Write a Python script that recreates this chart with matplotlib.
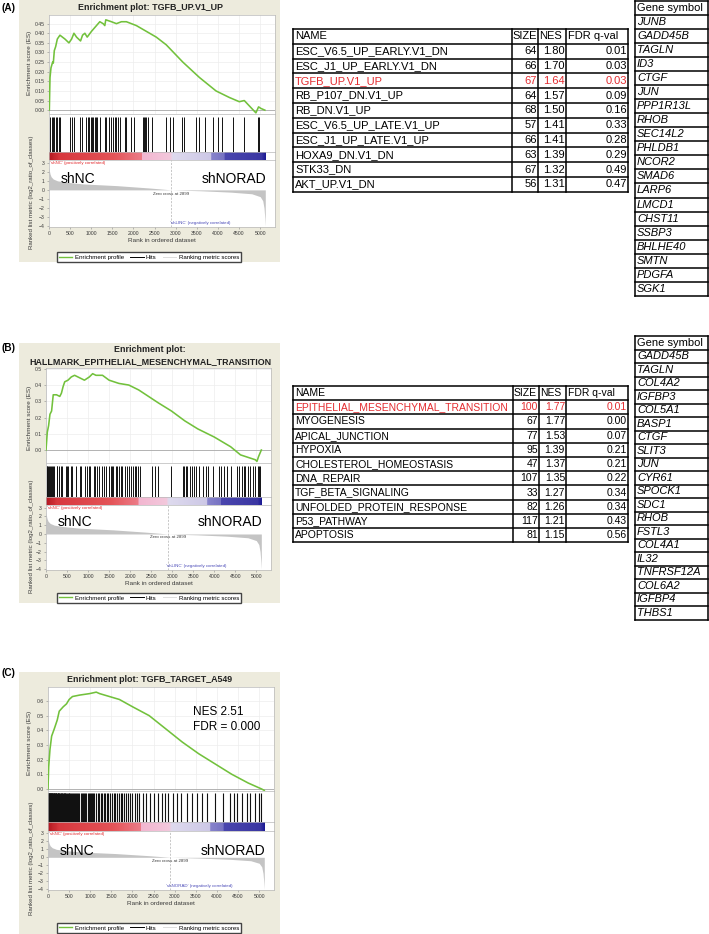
import matplotlib
matplotlib.use('Agg')
import matplotlib.pyplot as plt
import numpy as np
from matplotlib.colors import LinearSegmentedColormap
from matplotlib.lines import Line2D
from matplotlib.patches import Rectangle

plt.rcParams['font.family'] = ['Liberation Sans', 'DejaVu Sans']

W, H = 709, 934

############################## data ##############################
n_genes = 5120
zero_cross = 2899

# ranking metric (shared by the three plots)
metric_rank = [0, 10, 25, 50, 100, 200, 400, 800, 1600, 2400, 2899, 3600, 4300, 4800, 5000, 5060, 5090, 5110, 5120]
metric_val = [2.5, 2.1, 1.75, 1.45, 1.2, 1.0, 0.85, 0.66, 0.47, 0.2, 0.0, -0.1, -0.25, -0.43, -0.75, -1.2, -2.0, -3.2, -4.0]

# (A) TGFB_UP.V1_UP
es_a_rank = [0, 8, 16, 24, 47, 86, 102, 126, 157, 197, 259, 377, 472, 535, 590, 652, 747, 794, 849, 904,
             1006, 1124, 1203, 1281, 1321, 1344, 1478, 1596, 1714, 1832, 1950, 2068, 2225, 2382, 2539, 2775,
             3168, 3561, 3954, 4269, 4505, 4623, 4859, 4898, 4961, 5016, 5110]
es_a = [0.0, 0.0, 0.09, 0.17, 0.22, 0.25, 0.245, 0.31, 0.33, 0.37, 0.39, 0.37, 0.35, 0.37, 0.40, 0.38, 0.36, 0.39,
        0.40, 0.38, 0.41, 0.44, 0.46, 0.45, 0.44, 0.47, 0.46, 0.45, 0.46, 0.46, 0.45, 0.44, 0.42, 0.40, 0.38, 0.34,
        0.25, 0.17, 0.10, 0.066, 0.044, 0.05, -0.005, -0.014, 0.017, 0.009, 0.0]
hits_a = [24, 63, 102, 126, 157, 197, 228, 259, 495, 535, 590, 731, 786, 873, 928, 951, 983, 1014, 1045, 1085,
          1124, 1148, 1203, 1320, 1360, 1423, 1478, 1517, 1556, 1596, 1635, 1674, 1792, 1831, 1949, 2004, 2224,
          2248, 2279, 2303, 2342, 2444, 2775, 2853, 2932, 3152, 3207, 3482, 3561, 3702, 3875, 3993, 4095, 4347,
          4622, 4937, 4976]

# (B) HALLMARK_EPITHELIAL_MESENCHYMAL_TRANSITION
es_b_rank = [0, 31, 62, 94, 133, 172, 250, 328, 367, 406, 445, 523, 602, 680, 758, 836, 914, 1031, 1109, 1188,
             1344, 1500, 1734, 1969, 2203, 2438, 2672, 2984, 3297, 3609, 4000, 4391, 4625, 4859, 4977, 5016,
             5055, 5120]
es_b = [0.0, 0.11, 0.15, 0.22, 0.24, 0.34, 0.34, 0.33, 0.35, 0.39, 0.42, 0.43, 0.45, 0.46, 0.45, 0.44, 0.43, 0.45,
        0.47, 0.46, 0.46, 0.43, 0.41, 0.40, 0.37, 0.33, 0.29, 0.24, 0.18, 0.13, 0.08, 0.02, -0.03, -0.05, -0.06,
        -0.07, -0.04, 0.0]
hits_b = [16, 31, 55, 78, 94, 117, 133, 156, 195, 250, 273, 312, 351, 391, 469, 508, 531, 586, 617, 703, 820, 843,
          937, 968, 1015, 1047, 1132, 1172, 1203, 1265, 1343, 1390, 1437, 1500, 1539, 1562, 1593, 1656, 1695, 1734,
          1773, 1812, 1890, 1929, 1968, 2015, 2070, 2109, 2140, 2187, 2226, 2515, 2593, 2671, 2983, 3257, 3280,
          3319, 3350, 3413, 3475, 3530, 3577, 3647, 3725, 3803, 3858, 3960, 4116, 4171, 4233, 4296, 4390, 4546,
          4585, 4663, 4702, 4741, 4796, 4858, 4921, 4975, 5030, 5054, 5093]

# (C) TGFB_TARGET_A549
es_c_rank = [0, 16, 47, 86, 149, 219, 266, 360, 438, 501, 579, 751, 986, 1142, 1221, 1455, 1690, 2003, 2394, 2786,
             3177, 3568, 3959, 4350, 4742, 5055, 5120]
es_c = [0.0, 0.15, 0.27, 0.36, 0.41, 0.47, 0.53, 0.56, 0.58, 0.61, 0.63, 0.64, 0.65, 0.66, 0.65, 0.63, 0.61, 0.56,
        0.50, 0.41, 0.32, 0.24, 0.17, 0.10, 0.04, 0.0, -0.01]
hits_c = [0, 8, 15, 22, 30, 38, 45, 55, 62, 70, 80, 90, 98, 105, 115, 125, 135, 142, 150, 160, 172, 180, 190, 200,
          212, 225, 236, 248, 260, 272, 285, 300, 312, 325, 340, 352, 368, 380, 395, 410, 425, 440, 470, 490, 505,
          530, 548, 575, 590, 620, 640, 660, 690, 720, 745, 770, 800, 830, 850, 880, 905, 940, 960, 990, 1020, 1050,
          1070, 1100, 1130, 1180, 1210, 1250, 1290, 1320, 1360, 1400, 1430, 1470, 1520, 1560, 1590, 1640, 1690,
          1720, 1760, 1800, 1850, 1900, 1940, 2000, 2050, 2100, 2160, 2250, 2330, 2420, 2500, 2600, 2700, 2760,
          2850, 2950, 3050, 3150, 3280, 3400, 3520, 3650, 3760, 3950, 4150, 4300, 4400, 4480, 4600, 4700, 4780,
          4900, 5000, 5050]

# tables
names_a = ['ESC_V6.5_UP_EARLY.V1_DN', 'ESC_J1_UP_EARLY.V1_DN', 'TGFB_UP.V1_UP', 'RB_P107_DN.V1_UP', 'RB_DN.V1_UP',
           'ESC_V6.5_UP_LATE.V1_UP', 'ESC_J1_UP_LATE.V1_UP', 'HOXA9_DN.V1_DN', 'STK33_DN', 'AKT_UP.V1_DN']
size_a = [64, 66, 67, 64, 68, 57, 66, 63, 67, 56]
nes_a = [1.80, 1.70, 1.64, 1.57, 1.50, 1.41, 1.41, 1.39, 1.32, 1.31]
fdr_a = [0.01, 0.03, 0.03, 0.09, 0.16, 0.33, 0.28, 0.29, 0.49, 0.47]

names_b = ['EPITHELIAL_MESENCHYMAL_TRANSITION', 'MYOGENESIS', 'APICAL_JUNCTION', 'HYPOXIA',
           'CHOLESTEROL_HOMEOSTASIS', 'DNA_REPAIR', 'TGF_BETA_SIGNALING', 'UNFOLDED_PROTEIN_RESPONSE',
           'P53_PATHWAY', 'APOPTOSIS']
size_b = [100, 67, 77, 95, 47, 107, 33, 82, 117, 81]
nes_b = [1.77, 1.77, 1.53, 1.39, 1.37, 1.35, 1.27, 1.26, 1.21, 1.15]
fdr_b = [0.01, 0.00, 0.07, 0.21, 0.21, 0.22, 0.34, 0.34, 0.43, 0.56]

genes_a = ['JUNB', 'GADD45B', 'TAGLN', 'ID3', 'CTGF', 'JUN', 'PPP1R13L', 'RHOB', 'SEC14L2', 'PHLDB1', 'NCOR2',
           'SMAD6', 'LARP6', 'LMCD1', 'CHST11', 'SSBP3', 'BHLHE40', 'SMTN', 'PDGFA', 'SGK1']
genes_b = ['GADD45B', 'TAGLN', 'COL4A2', 'IGFBP3', 'COL5A1', 'BASP1', 'CTGF', 'SLIT3', 'JUN', 'CYR61', 'SPOCK1',
           'SDC1', 'RHOB', 'FSTL3', 'COL4A1', 'IL32', 'TNFRSF12A', 'COL6A2', 'IGFBP4', 'THBS1']

############################## styles ##############################
GREEN = '#72c13c'
BEIGE = '#edebdd'
RED = '#e32b2f'
BLUE = '#4a4ab8'
TXT = '#3a3a3a'
XMAX = 5350

bar_cmap = LinearSegmentedColormap.from_list('gsea', [
    (0.0, '#b51a22'), (0.05, '#d8383e'), (0.30, '#e45458'), (0.425, '#ec7c88'),
    (0.43, '#f2b6d0'), (0.56, '#f2c8dc'), (0.57, '#dedaee'), (0.745, '#cdc8e6'),
    (0.75, '#8884cc'), (0.81, '#7672c2'), (0.815, '#4a46ae'), (0.985, '#3a36a2'), (1.0, '#1c1a94')])


def px_axes(fig, x0, y0, x1, y1):
    return fig.add_axes([x0 / W, 1 - y1 / H, (x1 - x0) / W, (y1 - y0) / H])


def light_spines(ax):
    for s in ax.spines.values():
        s.set_color('#b8b8b8')
        s.set_linewidth(0.5)


def gsea_panel(fig, x0, x1, ys, es_rank, es, es_ylim, es_ticks, es_fmt, hits, hit_lw):
    y_es, y_hit, y_bar, y_rk, y_end = ys

    ax = px_axes(fig, x0, y_es, x1, y_hit)
    ax.plot(es_rank, es, color=GREEN, lw=1.15, zorder=3)
    ax.axhline(0, color='#a8a8a8', lw=0.6)
    ax.set_xlim(0, XMAX)
    ax.set_ylim(*es_ylim)
    ax.set_yticks(es_ticks)
    ax.set_yticklabels([es_fmt % t for t in es_ticks])
    ax.set_xticks(range(0, 5001, 500))
    ax.tick_params(labelbottom=False, length=1.5, width=0.4, labelsize=3.7, pad=1.5,
                   colors='#888888', labelcolor=TXT)
    ax.grid(color='#ededed', lw=0.5)
    light_spines(ax)

    axh = px_axes(fig, x0, y_hit, x1, y_bar)
    axh.vlines(hits, 0, 0.92, color='#111111', lw=hit_lw)
    axh.set_xlim(0, XMAX)
    axh.set_ylim(0, 1)
    axh.set_xticks([])
    axh.set_yticks([])
    light_spines(axh)

    axb = px_axes(fig, x0, y_bar, x1, y_rk)
    axb.imshow(np.linspace(0, 1, 600)[None, :], cmap=bar_cmap, aspect='auto',
               extent=(0, n_genes, 0, 1), interpolation='nearest')
    axb.set_xlim(0, XMAX)
    axb.set_ylim(0, 1)
    axb.set_xticks([])
    axb.set_yticks([])
    light_spines(axb)

    axr = px_axes(fig, x0, y_rk, x1, y_end)
    axr.fill_between(metric_rank, metric_val, 0, color='#c4c4c4', lw=0)
    axr.axvline(zero_cross, color='#b0b0b0', lw=0.5, ls=(0, (3, 2)))
    axr.set_xlim(0, XMAX)
    axr.set_ylim(-4.1, 3.3)
    axr.set_yticks(range(-4, 4))
    axr.set_xticks(range(0, 5001, 500))
    axr.tick_params(length=1.5, width=0.4, labelsize=3.7, pad=1.5, colors='#888888', labelcolor=TXT)
    axr.text(zero_cross, -0.4, 'Zero cross at 2899', fontsize=3.2, ha='center', va='center', color=TXT)
    axr.text(25, 2.95, "'shNC' (positively correlated)", fontsize=3.2, color=RED, va='center')
    axr.set_xlabel('Rank in ordered dataset', fontsize=4.6, color=TXT, labelpad=1.5)
    light_spines(axr)
    return axr


fig = plt.figure(figsize=(W / 100, H / 100), dpi=100)
ov = fig.add_axes([0, 0, 1, 1])
ov.set_xlim(0, W)
ov.set_ylim(H, 0)
ov.axis('off')

legend_handles = [Line2D([], [], color=GREEN, lw=1.0), Line2D([], [], color='black', lw=0.7),
                  Line2D([], [], color='#dddddd', lw=0.7)]
legend_labels = ['Enrichment profile', 'Hits', 'Ranking metric scores']

panels = [
    dict(lab='(A)', top=0, bottom=262, title=['Enrichment plot: TGFB_UP.V1_UP'], ty=[8], x0=49, x1=275,
         ys=(15, 114, 152, 160, 227), er=es_a_rank, es=es_a, ylim=(-0.02, 0.495),
         ticks=[0, 0.05, 0.1, 0.15, 0.2, 0.25, 0.3, 0.35, 0.4, 0.45], fmt='%.2f', hits=hits_a, hlw=0.7,
         neg="'shLINC' (negatively correlated)", leg=257, yl=(63, 192), sh=179, laby=8),
    dict(lab='(B)', top=343, bottom=603, title=['Enrichment plot:', 'HALLMARK_EPITHELIAL_MESENCHYMAL_TRANSITION'],
         ty=[349, 362], x0=46, x1=271, ys=(368, 463, 497, 505, 570), er=es_b_rank, es=es_b, ylim=(-0.08, 0.505),
         ticks=[0, 0.1, 0.2, 0.3, 0.4, 0.5], fmt='%.1f', hits=hits_b, hlw=0.7,
         neg="'shLINC' (negatively correlated)", leg=598, yl=(418, 536), sh=522, laby=348),
    dict(lab='(C)', top=672, bottom=934, title=['Enrichment plot: TGFB_TARGET_A549'], ty=[679], x0=48, x1=274,
         ys=(687, 791, 822, 831, 890), er=es_c_rank, es=es_c, ylim=(-0.014, 0.695),
         ticks=[0, 0.1, 0.2, 0.3, 0.4, 0.5, 0.6], fmt='%.1f', hits=hits_c, hlw=0.8,
         neg="'shNORAD' (negatively correlated)", leg=928, yl=(743, 858), sh=851, laby=673),
]

for p in panels:
    ov.add_patch(Rectangle((19, p['top']), 261, p['bottom'] - p['top'], facecolor=BEIGE, edgecolor='none'))
    ov.text(2, p['laby'], p['lab'], fontsize=7.2, fontweight='bold', va='center', ha='left')
    for t, y in zip(p['title'], p['ty']):
        ov.text(150, y, t, fontsize=6.4, fontweight='bold', ha='center', va='center', color='#222222')
    axr = gsea_panel(fig, p['x0'], p['x1'], p['ys'], p['er'], p['es'], p['ylim'], p['ticks'], p['fmt'],
                     p['hits'], p['hlw'])
    axr.text(3580, -3.65, p['neg'], fontsize=3.2, color=BLUE, ha='center', va='center')
    ov.text(30, p['yl'][0], 'Enrichment score (ES)', rotation=90, fontsize=4.6, color=TXT, ha='center', va='center')
    ov.text(32, p['yl'][1], 'Ranked list metric (log2_ratio_of_classes)', rotation=90, fontsize=4.4, color=TXT,
            ha='center', va='center')
    fig.legend(legend_handles, legend_labels, loc='center', bbox_to_anchor=(149 / W, 1 - p['leg'] / H), ncol=3,
               fontsize=4.4, frameon=True, fancybox=False, edgecolor='#444444', handlelength=2.2,
               columnspacing=1.0, handletextpad=0.4, borderpad=0.35, framealpha=1)

# top layer for texts written over the plots
top = fig.add_axes([0, 0, 1, 1])
top.set_xlim(0, W)
top.set_ylim(H, 0)
top.axis('off')
for p in panels:
    top.text(p['x0'] + 12, p['sh'], 'shNC', fontsize=10, ha='left', va='center')
    top.text(p['x1'] - 9, p['sh'], 'shNORAD', fontsize=10, ha='right', va='center')
top.text(193, 712, 'NES 2.51', fontsize=8.5, va='center', ha='left')
top.text(193, 727, 'FDR = 0.000', fontsize=8.5, va='center', ha='left')


############################## tables ##############################
def hline(y, xa, xb):
    ov.plot([xa, xb], [y, y], color='black', lw=1.1, solid_capstyle='projecting')


def vline(x, ya, yb):
    ov.plot([x, x], [ya, yb], color='black', lw=1.1, solid_capstyle='projecting')


def score_table(cols, top_y, row_h, names, sizes, nes, fdr, red_name, fs):
    n = len(names) + 1
    for i in range(n + 1):
        hline(top_y + i * row_h, cols[0], cols[-1])
    for c in cols:
        vline(c, top_y, top_y + n * row_h)
    yc = top_y + row_h / 2
    ov.text(cols[0] + 2, yc, 'NAME', fontsize=fs, va='center')
    ov.text(cols[1] + 0.5, yc, 'SIZE', fontsize=fs, va='center')
    ov.text(cols[2] + 1.5, yc, 'NES', fontsize=fs, va='center')
    ov.text(cols[3] + 1.5, yc, 'FDR q-val', fontsize=fs, va='center')
    for i, name in enumerate(names):
        yc = top_y + (i + 1.5) * row_h
        col = RED if name == red_name else 'black'
        ov.text(cols[0] + 2, yc, name, fontsize=fs, va='center', color=col)
        ov.text(cols[2] - 1, yc, '%d' % sizes[i], fontsize=fs, va='center', ha='right', color=col)
        ov.text(cols[3] - 1, yc, '%.2f' % nes[i], fontsize=fs, va='center', ha='right', color=col)
        ov.text(cols[4] - 1, yc, '%.2f' % fdr[i], fontsize=fs, va='center', ha='right', color=col)


def gene_table(cols, top_y, row_h, genes):
    n = len(genes) + 1
    for i in range(n + 1):
        hline(top_y + i * row_h, cols[0], cols[1])
    for c in cols:
        vline(c, top_y, top_y + n * row_h)
    ov.text(cols[0] + 2, top_y + row_h / 2, 'Gene symbol', fontsize=8, va='center')
    for i, g in enumerate(genes):
        ov.text(cols[0] + 2, top_y + (i + 1.5) * row_h, g, fontsize=8, va='center', style='italic')


score_table([293, 512, 538, 566, 628], 29, 14.8, names_a, size_a, nes_a, fdr_a, 'TGFB_UP.V1_UP', 8)
score_table([293, 513, 539, 566, 628], 386, 14.2, names_b, size_b, nes_b, fdr_b,
            'EPITHELIAL_MESENCHYMAL_TRANSITION', 7.5)
gene_table([635, 708], 0.8, 14.05, genes_a)
gene_table([635, 708], 336, 13.5, genes_b)

fig.savefig('out.png', dpi=100)
